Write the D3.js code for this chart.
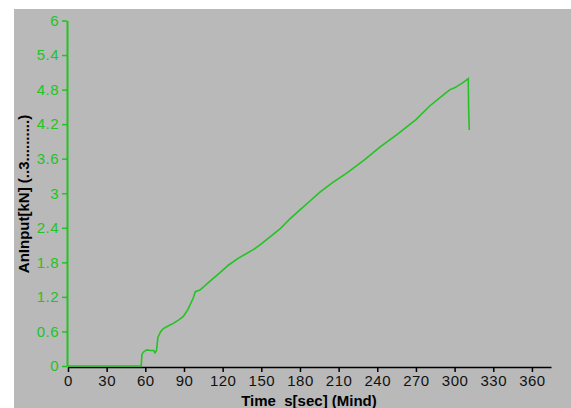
<!DOCTYPE html>
<html>
<head>
<meta charset="utf-8">
<script src="https://cdn.jsdelivr.net/npm/d3@7"></script>
<style>
  body { margin: 0; background: #fff; }
  svg text { font-family: "Liberation Sans", Arial, sans-serif; white-space: pre; }
</style>
</head>
<body>
<svg id="chart" width="571" height="408"></svg>
<script>
// time in seconds, force in kN
const timeSec = [0, 30, 56.8, 57.4, 58.4, 61, 64, 66.5, 67.5, 68.6, 69.8, 72, 74, 78, 81.7, 86, 89.5, 93, 97.2, 98.8, 102.4,
  110, 118, 124.4, 132, 143.8, 150, 164.5, 172, 180, 188, 195.5, 205, 216.3, 230, 242, 256, 270, 280.9, 292.5, 296.4, 300,
  306.5, 310.6, 310.9, 311.4];
const forceKN = [0, 0, 0, 0.2, 0.24, 0.28, 0.27, 0.27, 0.23, 0.26, 0.5, 0.6, 0.65, 0.7, 0.74, 0.8, 0.86, 0.98, 1.18, 1.29, 1.32,
  1.47, 1.62, 1.75, 1.87, 2.02, 2.12, 2.38, 2.55, 2.71, 2.87, 3.02, 3.18, 3.35, 3.58, 3.8, 4.03, 4.28, 4.52, 4.73, 4.8, 4.83,
  4.92, 4.99, 4.45, 4.1];
const xTicks = [0, 30, 60, 90, 120, 150, 180, 210, 240, 270, 300, 330, 360];
const yTicks = [0, 0.6, 1.2, 1.8, 2.4, 3, 3.6, 4.2, 4.8, 5.4, 6];

const svg = d3.select("#chart");
const width = +svg.attr("width");
const height = +svg.attr("height");
const green = "#22c322";

// gray plot panel
svg.append("rect")
    .attr("x", 14).attr("y", 9)
    .attr("width", width - 14).attr("height", height - 9)
    .attr("fill", "#b9b9b9");

const xScale = d3.scaleLinear().domain([0, 374.8]).range([68, 551]);
const yScale = d3.scaleLinear().domain([0, 6]).range([366, 20.5]);

//x-axis, black
const xAxis = svg.append("g")
    .attr("transform", "translate(0,367)")
    .call(d3.axisBottom(xScale).tickValues(xTicks).tickSize(5).tickSizeOuter(0).tickPadding(3));
xAxis.select(".domain").attr("stroke", "#000").attr("stroke-width", 1.5);
xAxis.selectAll(".tick line").attr("stroke", "#000").attr("stroke-width", 1.5);
xAxis.selectAll(".tick text").attr("fill", "#111").attr("font-size", 15)
    .attr("font-family", "Liberation Sans, Arial, sans-serif").attr("letter-spacing", 0.5);

//y-axis, green
const yAxis = svg.append("g")
    .attr("transform", "translate(67,0)")
    .call(d3.axisLeft(yScale).tickValues(yTicks).tickFormat(d => String(d)).tickSize(5).tickSizeOuter(0).tickPadding(3));
yAxis.select(".domain").attr("stroke", green).attr("stroke-width", 2);
yAxis.selectAll(".tick line").attr("stroke", green).attr("stroke-width", 1.5);
yAxis.selectAll(".tick text").attr("fill", green).attr("font-size", 15)
    .attr("font-family", "Liberation Sans, Arial, sans-serif").attr("letter-spacing", 0.5);

// data line
const line = d3.line()
    .x((d, i) => xScale(timeSec[i]))
    .y(d => yScale(d));
svg.append("path")
    .datum(forceKN)
    .attr("d", line)
    .attr("fill", "none")
    .attr("stroke", green)
    .attr("stroke-width", 1.6);

//axis titles
svg.append("text")
    .attr("x", 309).attr("y", 406)
    .attr("text-anchor", "middle")
    .attr("font-size", 15).attr("font-weight", "bold")
    .text("Time  s[sec] (Mind)");

svg.append("text")
    .attr("transform", "translate(29,194)rotate(-90)")
    .attr("text-anchor", "middle")
    .attr("font-size", 15).attr("font-weight", "bold")
    .text("AnInput[kN] (..3..........)");
</script>
</body>
</html>
